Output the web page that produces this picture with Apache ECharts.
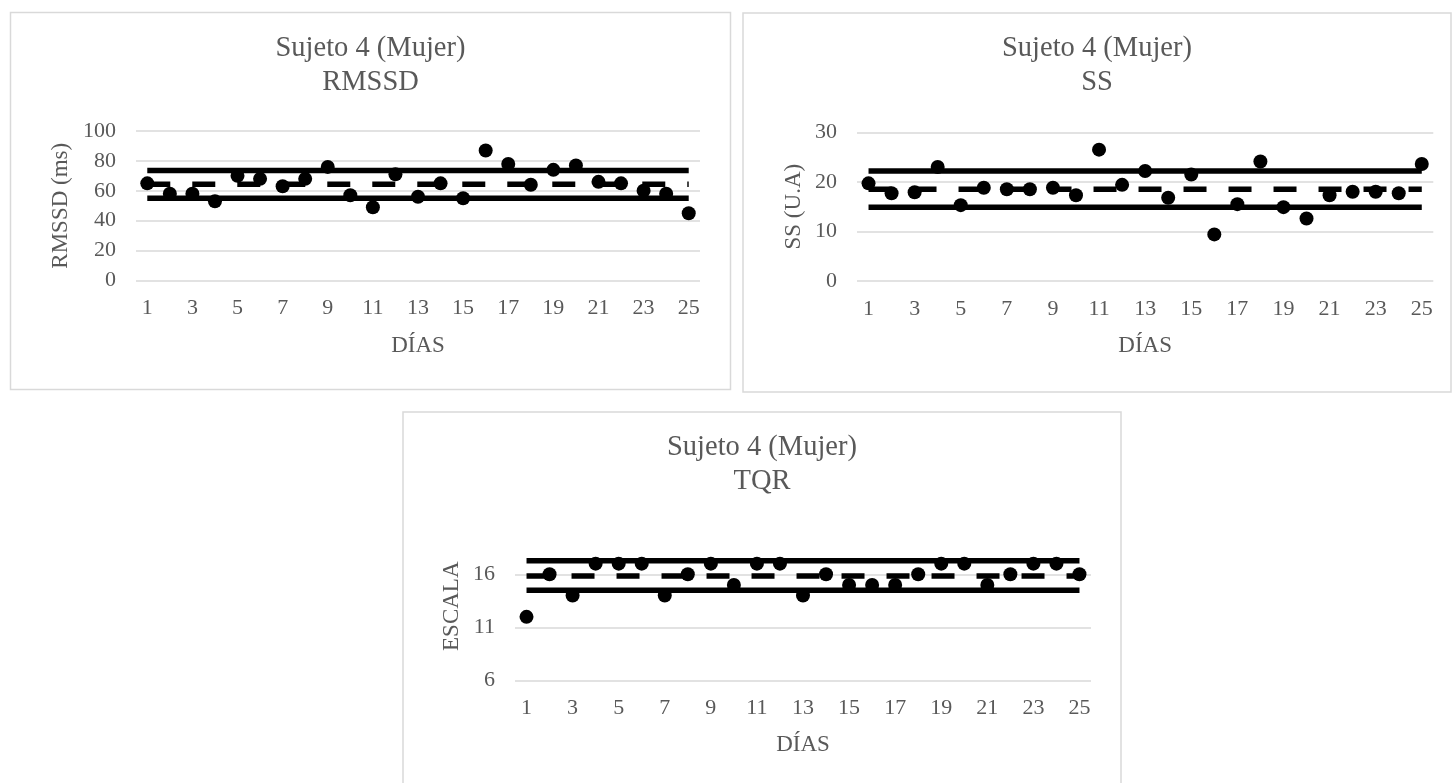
<!DOCTYPE html>
<html>
<head>
<meta charset="utf-8">
<script src="https://cdn.jsdelivr.net/npm/echarts@6/dist/echarts.min.js"></script>
<style>
html,body{margin:0;padding:0;background:#fff;}
#c{width:1453px;height:783px;}
</style>
</head>
<body>
<div id="c"></div>
<script>
// ---- data ----
const days = ['1','2','3','4','5','6','7','8','9','10','11','12','13','14','15','16','17','18','19','20','21','22','23','24','25'];

const rmssd = [65,58,58,53,70,68,63,68,76,57,49,71,56,65,55,87,78,64,74,77,66,65,60,58,45];
const rmssdMean = 64.4, rmssdUpper = 73.5, rmssdLower = 55.0;

const ss = [19.7,17.7,17.9,23.0,15.3,18.8,18.5,18.5,18.8,17.3,26.5,19.4,22.2,16.8,21.5,9.4,15.5,24.1,14.9,12.6,17.3,18.0,18.0,17.7,23.6];
const ssMean = 18.5, ssUpper = 22.2, ssLower = 14.9;

const tqr = [12,16,14,17,17,17,14,16,17,15,17,17,14,16,15,15,15,16,17,17,15,16,17,17,16];
const tqrMean = 15.84, tqrUpper = 17.27, tqrLower = 14.5;
const tqrGridValues = [6, 11, 16];

const titleTop = 'Sujeto 4 (Mujer)';
const panelNames = ['RMSSD', 'SS', 'TQR'];
const yNames = ['RMSSD (ms)', 'SS (U.A)', 'ESCALA'];
const xName = 'DÍAS';

// ---- styles ----
const FONT = "'Liberation Serif', 'Times New Roman', serif";
const TXT = '#595959';
const GRID = '#d9d9d9';

const chart = echarts.init(document.getElementById('c'));

function xAxisOf(i, gap) {
  return {
    type: 'category', gridIndex: i, data: days, boundaryGap: true,
    axisLine: {show: false}, axisTick: {show: false},
    axisLabel: {interval: 1, margin: 17, color: TXT, fontFamily: FONT, fontSize: 22},
    name: xName, nameLocation: 'middle', nameGap: gap,
    nameTextStyle: {color: TXT, fontFamily: FONT, fontSize: 23}
  };
}
function yAxisOf(i, min, max, interval, gap, extra) {
  return Object.assign({
    type: 'value', gridIndex: i, min: min, max: max, interval: interval,
    axisLine: {show: false}, axisTick: {show: false},
    axisLabel: {margin: 20, color: TXT, fontFamily: FONT, fontSize: 22},
    splitLine: {show: true, lineStyle: {color: GRID, width: 1.5}},
    name: yNames[i], nameLocation: 'middle', nameGap: gap, nameRotate: 90,
    nameTextStyle: {color: TXT, fontFamily: FONT, fontSize: 23}
  }, extra || {});
}

function limitLine(i, v, dashed) {
  return {
    type: 'line', xAxisIndex: i, yAxisIndex: i, silent: true, symbol: 'none',
    data: [[days[0], v], [days[days.length - 1], v]],
    lineStyle: {color: '#000', width: 5.5, opacity: 1, type: dashed ? [23, 22] : 'solid', cap: 'butt'},
    z: 3, animation: false
  };
}
function dots(i, values) {
  return {
    type: 'scatter', xAxisIndex: i, yAxisIndex: i, data: values,
    symbol: 'circle', symbolSize: 14, itemStyle: {color: '#000', opacity: 1},
    z: 4, animation: false
  };
}

const panels = [
  {x: 10.5, y: 12.5, w: 720, h: 377},
  {x: 743, y: 13, w: 708, h: 379},
  {x: 403, y: 412, w: 718, h: 390}
];

const graphics = [];
panels.forEach(function (p, i) {
  graphics.push({
    type: 'rect', silent: true, z: 0,
    shape: {x: p.x, y: p.y, width: p.w, height: p.h},
    style: {fill: 'none', stroke: GRID, lineWidth: 1.5}
  });
  graphics.push({
    type: 'text', silent: true, z: 5,
    x: p.x + p.w / 2, y: p.y + 19,
    style: {
      text: titleTop + '\n' + panelNames[i],
      fill: TXT, font: '28.5px ' + FONT, lineHeight: 34,
      align: 'center', verticalAlign: 'top'
    }
  });
});

const option = {
  backgroundColor: '#fff',
  animation: false,
  graphic: graphics,
  grid: [
    {left: 136, top: 131, width: 564, height: 149.5},
    {left: 857, top: 132.3, width: 576.3, height: 148.7},
    {left: 515, top: 531.7, width: 576, height: 149}
  ],
  xAxis: [xAxisOf(0, 53.5), xAxisOf(1, 53.5), xAxisOf(2, 52.5)],
  yAxis: [
    yAxisOf(0, 0, 100, 20, 64),
    yAxisOf(1, 0, 30, 10, 52),
    yAxisOf(2, 6, 20, 5, 52, {
      splitLine: {show: false},
      axisLabel: {margin: 20, color: TXT, fontFamily: FONT, fontSize: 22,
        formatter: function (v) { return ((v - 6) % 5 === 0) ? String(v) : ''; }}
    })
  ],
  series: [
    {
      type: 'line', xAxisIndex: 2, yAxisIndex: 2, data: [], silent: true, z: 1,
      markLine: {
        silent: true, z: 1, symbol: ['none', 'none'], label: {show: false}, animation: false,
        lineStyle: {color: GRID, width: 1.5, type: 'solid'},
        data: tqrGridValues.map(function (v) { return {yAxis: v}; })
      }
    },
    limitLine(0, rmssdUpper, false), limitLine(0, rmssdMean, true), limitLine(0, rmssdLower, false), dots(0, rmssd),
    limitLine(1, ssUpper, false), limitLine(1, ssMean, true), limitLine(1, ssLower, false), dots(1, ss),
    limitLine(2, tqrUpper, false), limitLine(2, tqrMean, true), limitLine(2, tqrLower, false), dots(2, tqr)
  ]
};
chart.setOption(option);
</script>
</body>
</html>
